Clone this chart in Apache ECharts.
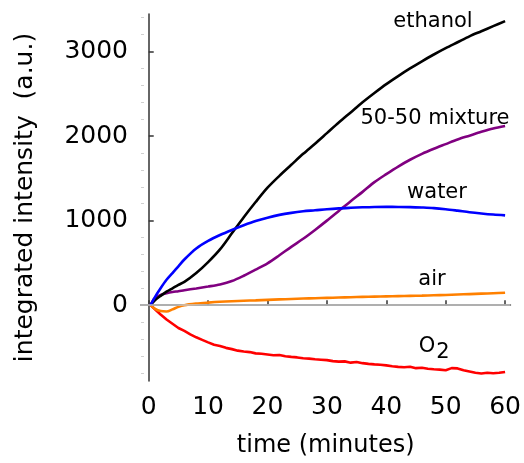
<!DOCTYPE html>
<html>
<head>
<meta charset="utf-8">
<script src="https://cdn.jsdelivr.net/npm/echarts@6/dist/echarts.min.js"></script>
<style>
  html, body { margin: 0; padding: 0; background: #fff; }
  #chart { width: 524px; height: 463px; }
</style>
</head>
<body>
<div id="chart"></div>
<script>
// time (minutes) for the smooth curves
const times = [0.3, 1, 2, 3, 4, 5, 6, 8, 10, 12, 14, 16, 18, 20, 22, 24, 26, 28, 30,
  32, 34, 36, 38, 40, 42, 44, 46, 48, 50, 52, 54, 56, 58, 60];
const ethanol = [0, 55, 110, 160, 200, 240, 275, 380, 510, 660, 850, 1040, 1220, 1390, 1530, 1660, 1790, 1910, 2035,
  2160, 2280, 2400, 2510, 2615, 2710, 2800, 2885, 2965, 3040, 3110, 3180, 3240, 3300, 3360];
const mixture = [0, 80, 120, 140, 155, 165, 177, 198, 220, 245, 285, 348, 420, 495, 590, 690, 785, 890, 1000,
  1115, 1230, 1340, 1455, 1550, 1640, 1720, 1790, 1850, 1905, 1960, 2005, 2050, 2090, 2120];
const water = [0, 90, 200, 300, 380, 460, 540, 670, 760, 830, 890, 945, 995, 1035, 1068, 1092, 1110, 1122, 1135,
  1145, 1152, 1158, 1162, 1163, 1162, 1160, 1155, 1148, 1135, 1118, 1100, 1085, 1072, 1062];
const air = [0, -40, -70, -75, -50, -20, 0, 18, 30, 40, 47, 52, 57, 63, 68, 73, 78, 82, 86,
  90, 94, 98, 101, 104, 107, 110, 113, 117, 121, 126, 131, 136, 141, 146];

// O2 is noisier, read every minute
const o2Times = [0.3, 1, 2, 3, 4, 5, 6, 7, 8, 9, 10, 11, 12, 13, 14, 15, 16, 17, 18, 19, 20,
  21, 22, 23, 24, 25, 26, 27, 28, 29, 30, 31, 32, 33, 34, 35, 36, 37, 38, 39, 40,
  41, 42, 43, 44, 45, 46, 47, 48, 49, 50, 51, 52, 53, 54, 55, 56, 57, 58, 59, 60];
const o2 = [0, -45, -110, -170, -220, -270, -305, -345, -380, -410, -440, -468, -482, -505, -520, -538, -548, -555, -570, -575, -583,
  -592, -590, -605, -612, -618, -628, -632, -640, -645, -650, -662, -668, -665, -680, -672, -686, -694, -700, -705, -712,
  -722, -730, -735, -728, -745, -740, -752, -758, -762, -770, -745, -748, -770, -785, -800, -808, -800, -805, -800, -790];

const xTicks = [0, 10, 20, 30, 40, 50, 60];
const yTicks = [0, 1000, 2000, 3000];
const yMinorTicks = [-800, -600, -400, -200, 200, 400, 600, 800, 1200, 1400, 1600, 1800,
  2200, 2400, 2600, 2800, 3200, 3400];

const FONT = "DejaVu Sans";

const zip = (xs, ys) => xs.map((x, i) => [x, ys[i]]);

const chart = echarts.init(document.getElementById("chart"));

const lineSeries = (name, color, xs, ys, smooth) => ({
  name,
  type: "line",
  data: zip(xs, ys),
  showSymbol: false,
  smooth: smooth ? 0.3 : false,
  lineStyle: { color, width: 2.6 },
  emphasis: { disabled: true },
  silent: true,
});

const labelText = (text, x, y, size) => ({
  type: "text",
  x, y,
  style: {
    text,
    fill: "#000",
    font: `${size}px "${FONT}"`,
    align: "center",
    verticalAlign: "middle",
  },
});

const option = {
  animation: false,
  backgroundColor: "#fff",
  grid: { left: 141, right: 11, top: 14, bottom: 80 },
  xAxis: {
    type: "value",
    min: -1.3,
    max: 60.9,
    name: "time (minutes)",
    nameLocation: "middle",
    nameGap: 53,
    nameTextStyle: { fontFamily: FONT, fontSize: 24, color: "#000" },
    axisLine: { show: true, lineStyle: { color: "#333", width: 1.5 } },
    axisTick: { inside: true, length: 5, customValues: xTicks, lineStyle: { color: "#333", width: 1.5 } },
    axisLabel: { customValues: xTicks, margin: 14, fontFamily: FONT, fontSize: 25, color: "#000",
      formatter: (v) => String(v) },
    splitLine: { show: false },
  },
  yAxis: [
    {
      type: "value",
      min: -897,
      max: 3444,
      name: "integrated intensity  (a.u.)",
      nameLocation: "middle",
      nameGap: 103,
      nameTextStyle: { fontFamily: FONT, fontSize: 25, color: "#000" },
      axisLine: { show: true, lineStyle: { color: "#333", width: 1.5 } },
      axisTick: { inside: true, length: 5, customValues: yTicks, lineStyle: { color: "#333", width: 1.5 } },
      axisLabel: { customValues: yTicks, margin: 13, fontFamily: FONT, fontSize: 25, color: "#000",
        formatter: (v) => String(v) },
      splitLine: { show: false },
    },
    {
      // faint minor ticks
      type: "value",
      min: -897,
      max: 3444,
      position: "left",
      axisLine: { show: false },
      axisTick: { show: true, inside: true, length: 3, customValues: yMinorTicks, lineStyle: { color: "#d0d0d0", width: 1 } },
      axisLabel: { show: false },
      splitLine: { show: false },
    },
  ],
  series: [
    Object.assign(lineSeries("O2", "#ff0000", o2Times, o2, false), {
      markLine: {
        silent: true,
        symbol: "none",
        label: { show: false },
        lineStyle: { color: "#c8c8c8", width: 1.5, type: "solid" },
        data: [{ yAxis: 0 }],
      },
    }),
    lineSeries("air", "#ff8000", times, air, true),
    lineSeries("50-50 mixture", "#800080", times, mixture, true),
    lineSeries("ethanol", "#000000", times, ethanol, true),
    lineSeries("water", "#0000ff", times, water, true),
  ],
  graphic: [
    labelText("ethanol", 433, 22, 21),
    labelText("50-50 mixture", 435, 119, 21),
    labelText("water", 437, 193, 21),
    labelText("air", 432, 280, 21),
    labelText("O", 427, 347, 21),
    labelText("2", 443, 353, 21),
  ],
};

chart.setOption(option);
</script>
</body>
</html>
